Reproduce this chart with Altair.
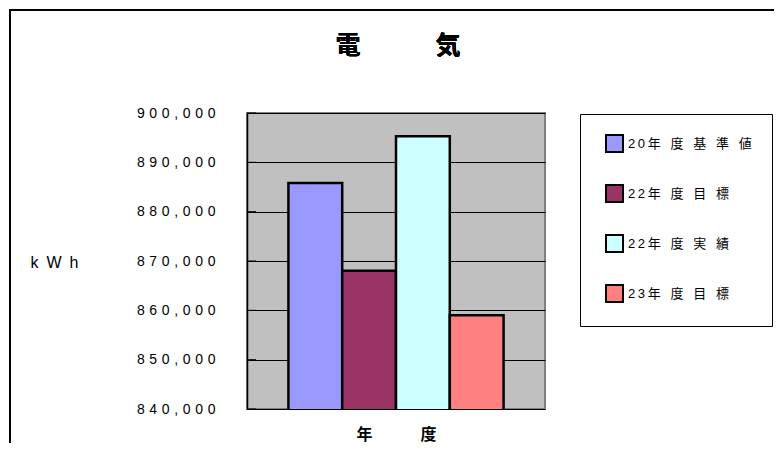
import altair as alt
import pandas as pd

series = ["20年度基準値", "22年度目標", "22年度実績", "23年度目標"]
values = [885800, 868000, 895300, 859000]
colors = ["#9999FF", "#993366", "#CCFFFF", "#FF8080"]
y_ticks = [840000, 850000, 860000, 870000, 880000, 890000, 900000]
title_text = "電　　　気"

df = pd.DataFrame({"series": series, "kwh": values})
ticks_df = pd.DataFrame({"t": y_ticks})

JP = "'Liberation Sans', 'Noto Sans CJK JP', sans-serif"

yscale = alt.Scale(domain=[840000, 900000], nice=False, zero=False)

bars = alt.Chart(df).mark_bar(stroke="black", strokeWidth=2.5, clip=True).encode(
    x=alt.X("series:N", sort=series,
            scale=alt.Scale(paddingInner=0, paddingOuter=0.77),
            axis=alt.Axis(labels=False, ticks=False, domain=False,
                          title="年　　　度", titleFont=JP, titleFontSize=16,
                          titleFontWeight="bold", titlePadding=17, titleColor="black")),
    y=alt.Y("kwh:Q", scale=yscale,
            axis=alt.Axis(values=y_ticks, grid=True, gridColor="black",
                          gridWidth=1, gridOpacity=1, ticks=False,
                          domain=True, domainColor="black", domainWidth=1.5,
                          labelFont=JP, labelFontSize=14, labelColor="black",
                          labelPadding=32,
                          labelExpr="replace(format(datum.value, ','), regexp('(.)(?!$)', 'g'), '$1\u2004')",
                          title="k\u2002W\u2002h", titleAngle=0, titleAlign="left",
                          titleBaseline="middle", titleX=-217, titleY=149,
                          titleFont=JP, titleFontSize=16, titleFontWeight="normal",
                          titleColor="black")),
    color=alt.Color("series:N", sort=series,
                    scale=alt.Scale(domain=series, range=colors),
                    legend=alt.Legend(
                        title=None, orient="none", legendX=333, legendY=1,
                        padding=20, symbolOffset=5, symbolType="square",
                        symbolSize=289, symbolStrokeColor="black", symbolStrokeWidth=2,
                        labelFont=JP, labelFontSize=13, labelColor="black",
                        labelOffset=4, rowPadding=25,
                        strokeColor="black", fillColor="white",
                        labelLimit=300,
                        labelExpr="replace(replace(datum.label, regexp('([0-9])', 'g'), '$1\u2009'), regexp('([^0-9\u2009])(?!$)', 'g'), '$1\u2002\u2005')",
                    )),
)

inner_ticks = alt.Chart(ticks_df).mark_rule(color="black", strokeWidth=1).encode(
    y=alt.Y("t:Q", scale=yscale),
    x=alt.value(0), x2=alt.value(9),
)

title_mark = alt.Chart(df).mark_text(
    font="'Noto Sans CJK JP', sans-serif", fontSize=25, fontWeight="bold",
    color="black", align="center", baseline="middle",
).encode(x=alt.value(151), y=alt.value(-67), text=alt.value(title_text))

border = alt.Chart(df).mark_rect(fill=None, stroke="black", strokeWidth=1.5).encode(
    x=alt.value(-237), x2=alt.value(600), y=alt.value(-103), y2=alt.value(400),
)

chart = alt.layer(bars, inner_ticks, title_mark, border).properties(
    width=298, height=296,
    autosize=alt.AutoSizeParams(type="none"),
    padding={"left": 239, "top": 105, "right": 229, "bottom": 34},
    background="white",
).configure_view(
    fill="#C0C0C0", stroke="#808080", strokeWidth=2,
)

chart.save("out.html", embed_options={"renderer": "svg", "actions": False})
